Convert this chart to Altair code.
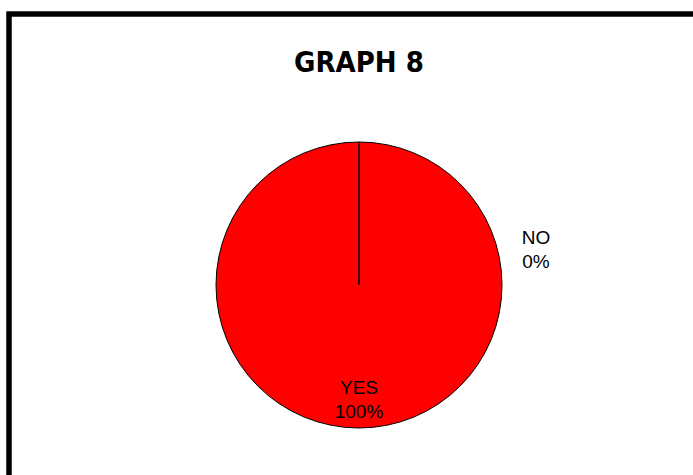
import altair as alt
import pandas as pd

# Survey answers and their share of responses (%)
categories = ["YES", "NO"]
percents = [100, 0]
slice_colors = ["#FF0000", "#FF0000"]
chart_title = ["GRAPH 8"]

df = pd.DataFrame({"answer": categories, "percent": percents, "rank": [0, 1]})
title_df = pd.DataFrame({"title": chart_title})

CX, CY = 359, 285
R = 143

base = alt.Chart(df)

frame = base.mark_rect(fill=None, stroke="black", strokeWidth=5).encode(
    x=alt.value(9), x2=alt.value(800),
    y=alt.value(14), y2=alt.value(600),
)

heading = alt.Chart(title_df).mark_text(
    font="DejaVu Sans Condensed, Roboto, sans-serif", fontSize=29, fontWeight="bold",
    baseline="alphabetic", align="center", color="black",
).encode(text="title:N", x=alt.value(359), y=alt.value(72))

pie = base.mark_arc(radius=R, stroke="black", strokeWidth=1).encode(
    theta=alt.Theta("percent:Q", stack=True),
    order=alt.Order("rank:Q"),
    color=alt.Color("answer:N", scale=alt.Scale(domain=categories, range=slice_colors), legend=None),
    x=alt.value(CX),
    y=alt.value(CY),
)

label_calc = "datum.answer + '\\n' + datum.percent + '%'"
label_style = dict(
    font="Liberation Sans", fontSize=19, lineBreak="\n", lineHeight=24,
    baseline="middle", align="center", color="black",
)

yes_label = base.transform_filter("datum.answer == 'YES'").transform_calculate(
    label=label_calc
).mark_text(**label_style).encode(text="label:N", x=alt.value(359), y=alt.value(388))

no_label = base.transform_filter("datum.answer == 'NO'").transform_calculate(
    label=label_calc
).mark_text(**label_style).encode(text="label:N", x=alt.value(536), y=alt.value(238))

chart = alt.layer(frame, heading, pie, yes_label, no_label).properties(
    width=693,
    height=475,
    padding=0,
    background="white",
    autosize=alt.AutoSizeParams(type="none"),
).configure_view(stroke=None)

chart.save("out.html", embed_options={"renderer": "svg", "actions": False})
